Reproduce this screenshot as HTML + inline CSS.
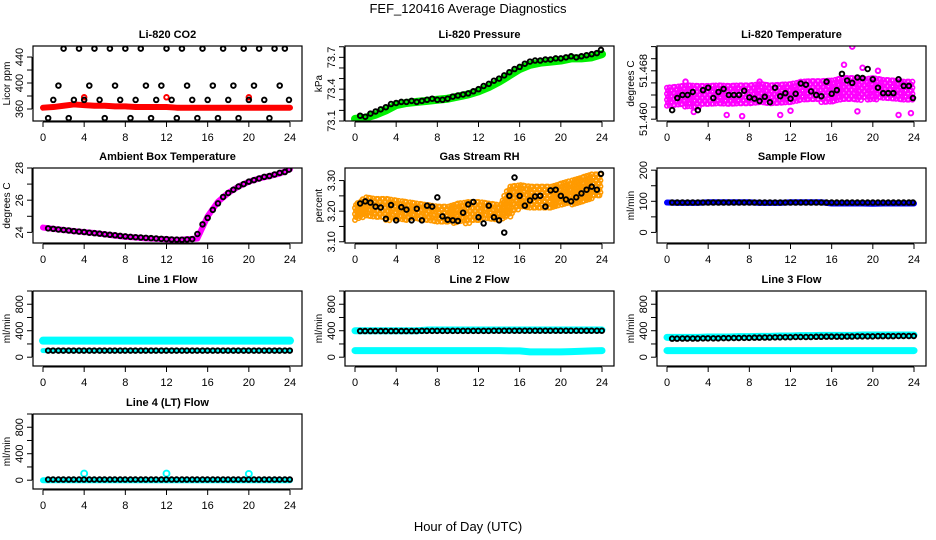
<!DOCTYPE html>
<html><head><meta charset="utf-8">
<style>
html,body{margin:0;padding:0;background:#fff;}
svg{display:block;font-family:"Liberation Sans",Arial,sans-serif;}
</style></head>
<body>
<svg id="chart" width="936" height="540" viewBox="0 0 936 540" xmlns="http://www.w3.org/2000/svg">
<text x="468" y="13" text-anchor="middle" font-size="13">FEF_120416  Average Diagnostics</text>
<text x="468" y="531" text-anchor="middle" font-size="13">Hour of Day (UTC)</text>
</svg>
<script>
// ---------- data ----------
const xTicks = [0,4,8,12,16,20,24];
const hours25 = [0,1,2,3,4,5,6,7,8,9,10,11,12,13,14,15,16,17,18,19,20,21,22,23,24];
const halfHours = [0.5,1,1.5,2,2.5,3,3.5,4,4.5,5,5.5,6,6.5,7,7.5,8,8.5,9,9.5,10,10.5,11,11.5,12,12.5,13,13.5,14,14.5,15,15.5,16,16.5,17,17.5,18,18.5,19,19.5,20,20.5,21,21.5,22,22.5,23,23.5,23.9];

const co2Black = [346,374,396,453,346,374,453,374,396,453,374,346,453,396,374,453,346,374,453,396,346,374,396,453,374,346,453,396,374,346,453,374,396,346,453,374,396,346,453,374,396,453,374,346,453,396,453,374];
const co2Red = [362,363,365,367,366,365,365,364,364,363,363,363,363,362,362,362,362,362,362,362,362,362,362,362,362];

const presBlack = [73.15,73.14,73.17,73.19,73.21,73.23,73.26,73.27,73.28,73.28,73.29,73.28,73.29,73.30,73.31,73.30,73.30,73.31,73.33,73.34,73.35,73.36,73.38,73.40,73.43,73.45,73.48,73.50,73.53,73.56,73.59,73.61,73.64,73.66,73.67,73.67,73.68,73.68,73.69,73.69,73.70,73.71,73.70,73.71,73.72,73.73,73.74,73.77];
const presGreen = [73.12,73.13,73.16,73.20,73.25,73.27,73.28,73.29,73.30,73.31,73.33,73.35,73.38,73.42,73.47,73.53,73.59,73.63,73.65,73.66,73.67,73.69,73.69,73.70,73.73];

const tempBlack = [51.4615,51.4635,51.4640,51.4640,51.4645,51.4615,51.4648,51.4652,51.4635,51.4645,51.4650,51.4640,51.4640,51.4640,51.4647,51.4636,51.4634,51.4630,51.4637,51.4628,51.4652,51.4638,51.4643,51.4634,51.4642,51.4659,51.4657,51.4646,51.4640,51.4638,51.4662,51.4642,51.4648,51.4675,51.4664,51.4660,51.4669,51.4668,51.4683,51.4666,51.4652,51.4643,51.4643,51.4643,51.4666,51.4655,51.4655,51.4635];
const tempLo = [51.4620,51.4622,51.4620,51.4620,51.4622,51.4622,51.4625,51.4624,51.4625,51.4625,51.4625,51.4626,51.4626,51.4628,51.4630,51.4628,51.4628,51.4630,51.4630,51.4632,51.4632,51.4632,51.4632,51.4630,51.4632];
const tempHi = [51.4652,51.4654,51.4656,51.4655,51.4655,51.4656,51.4655,51.4656,51.4656,51.4658,51.4656,51.4657,51.4658,51.4662,51.4663,51.4663,51.4664,51.4668,51.4668,51.4666,51.4668,51.4665,51.4664,51.4662,51.4662];
const tempOutX = [5.8,7.3,11,17.2,18,19,20.5,22.5,23.7,1.8,2.6,18.5,12,9];
const tempOutY = [51.4607,51.4605,51.4607,51.4690,51.4720,51.4685,51.4680,51.4607,51.4610,51.4662,51.4612,51.4613,51.4614,51.4662];

const ambBlack = [24.25,24.22,24.18,24.15,24.12,24.08,24.05,24.02,23.98,23.95,23.92,23.88,23.85,23.82,23.78,23.75,23.72,23.7,23.68,23.66,23.64,23.62,23.6,23.58,23.56,23.55,23.54,23.56,23.58,23.9,24.5,24.9,25.4,25.8,26.2,26.45,26.65,26.85,27.0,27.15,27.25,27.35,27.45,27.5,27.6,27.7,27.75,27.9];
const ambMagenta = [24.3,24.22,24.15,24.08,24.02,23.96,23.88,23.8,23.73,23.68,23.63,23.6,23.57,23.53,23.57,23.62,25.0,25.9,26.45,26.85,27.15,27.35,27.5,27.65,27.92];

const rhBlack = [3.225,3.232,3.228,3.215,3.212,3.175,3.22,3.17,3.213,3.205,3.17,3.208,3.17,3.218,3.215,3.245,3.183,3.172,3.17,3.168,3.195,3.222,3.23,3.18,3.16,3.218,3.18,3.17,3.13,3.25,3.31,3.25,3.218,3.235,3.248,3.25,3.215,3.268,3.27,3.25,3.238,3.232,3.245,3.258,3.27,3.28,3.27,3.322];
const rhLo = [3.17,3.18,3.18,3.17,3.17,3.17,3.17,3.17,3.16,3.16,3.16,3.16,3.17,3.17,3.17,3.18,3.21,3.21,3.21,3.21,3.22,3.22,3.23,3.24,3.25];
const rhHi = [3.22,3.245,3.24,3.24,3.235,3.23,3.225,3.22,3.215,3.215,3.225,3.23,3.23,3.225,3.22,3.28,3.285,3.28,3.28,3.28,3.29,3.3,3.31,3.32,3.32];

const sampleBlack = 96, sampleBlue = [96,95,95,95,97,97,97,97,97,95,95,95,97,97,97,97,93,93,93,93,92,93,93,93,93];

const l1Cyan = [250,250,250,250,250,250,250,250,250,250,250,250,250,250,250,250,250,250,250,250,250,250,250,250,250];
const l1Black = [100,100,100,100,100,100,100,100,100,100,100,100,100,100,100,100,100,100,100,100,100,100,100,100,100];
const l2CyanHi = [400,400,400,400,400,400,400,410,410,410,410,410,410,410,410,410,410,410,410,410,410,410,410,410,410];
const l2CyanLo = [100,100,100,100,100,100,100,100,100,100,100,100,100,100,100,95,95,80,80,80,80,85,90,95,100];
const l2Black = [395,395,395,395,395,395,395,398,398,398,398,398,398,398,400,400,400,400,400,400,400,400,400,400,400];
const l3CyanHi = [300,300,300,300,305,305,305,310,310,315,315,320,320,325,325,330,330,330,330,335,335,335,335,335,335];
const l3CyanLo = [100,100,100,100,100,100,100,100,100,100,100,100,100,100,100,100,100,100,100,100,100,100,100,100,100];
const l3Black = [280,280,282,282,285,285,288,290,292,295,297,300,302,305,305,308,310,310,312,315,315,318,318,320,320];
const l4Cyan = [0,0,0,0,0,0,0,0,0,0,0,0,0,0,0,0,0,0,0,0,0,0,0,0,0];
const l4Black = [10,10,10,10,10,10,10,10,10,10,10,10,10,10,10,10,10,10,10,10,10,10,10,10,10];
const l4SpikeX = [4,12,20];
const l4SpikeY = [100,100,95];
const co2RedSpikeX = [4,12,20];
const co2RedSpikeY = [378,378,378];

// ---------- drawing ----------
const NS = 'http://www.w3.org/2000/svg';
const svg = document.getElementById('chart');
function mk(tag, attrs, parent){
  const e = document.createElementNS(NS, tag);
  for (const k in attrs) e.setAttribute(k, attrs[k]);
  (parent||svg).appendChild(e);
  return e;
}
const colX = [33,345,657], rowY = [46,168,291,414];
const BW = 269, BH = 75;

function makePanel(col,row,title,ylab,ymin,ymax,ticks,labels,name){
  const g = mk('g',{});
  
  
  const bx = colX[col], by = rowY[row];
  const x0 = bx+10, x24 = bx+257;
  const xs = t => x0 + (x24-x0)*t/24;
  const ys = v => by+BH - (v-ymin)/(ymax-ymin)*BH;
  const t = mk('text',{x:bx+BW/2,y:by-8,'text-anchor':'middle','font-size':11,'font-weight':'bold'},g);
  t.textContent = title;
  
  
  const xa = mk('g',{},g);
  
  
  mk('line',{x1:xs(0),x2:xs(24),y1:by+BH+1,y2:by+BH+1,stroke:'#000','stroke-width':1},xa);
  xTicks.forEach(v=>{
    mk('line',{x1:xs(v),x2:xs(v),y1:by+BH+1,y2:by+BH+6,stroke:'#000'},xa);
    const tx = mk('text',{x:xs(v),y:by+BH+20,'text-anchor':'middle','font-size':11},xa);
    tx.textContent = v;
  });
  const ya = mk('g',{},g);
  
  
  mk('line',{x1:bx-1,x2:bx-1,y1:ys(ticks[0]),y2:ys(ticks[ticks.length-1]),stroke:'#000'},ya);
  ticks.forEach((v,i)=>{
    mk('line',{x1:bx-6,x2:bx-1,y1:ys(v),y2:ys(v),stroke:'#000'},ya);
    if (labels[i]!==''){
      const tx = mk('text',{x:bx-10,y:ys(v),'text-anchor':'middle','font-size':11,transform:`rotate(-90 ${bx-10} ${ys(v)})`},ya);
      tx.textContent = labels[i];
    }
  });
  const yl = mk('text',{x:bx-23,y:by+BH/2,'text-anchor':'middle','font-size':10,transform:`rotate(-90 ${bx-23} ${by+BH/2})`},g);
  yl.textContent = ylab;
  
  
  const clipId = 'c'+name;
  const cp = mk('clipPath',{id:clipId},g);
  mk('rect',{x:bx,y:by,width:BW,height:BH},cp);
  const plot = mk('g',{'clip-path':`url(#${clipId})`},g);
  mk('rect',{x:bx,y:by,width:BW,height:BH,fill:'none',stroke:'#000','stroke-width':1.2},g);
  return {g:plot,xs,ys};
}
function band(p, xsArr, ys, color, w, name){
  const pts = xsArr.map((x,i)=>p.xs(x)+','+p.ys(ys[i])).join(' ');
  const l = mk('polyline',{points:pts,fill:'none',stroke:color,'stroke-width':w,'stroke-linejoin':'round','stroke-linecap':'round'},p.g);
  
  
}
function circles(p, xsArr, ys, color, name, r){
  xsArr.forEach((x,i)=>{
    const c = mk('circle',{cx:p.xs(x),cy:p.ys(ys[i]),r:r||2.3,fill:'none',stroke:color,'stroke-width':1.9},p.g);
    
    
  });
}
function cloud(p, lo, hi, color, name){
  for (let i=0;i<hours25.length-1;i++){
    for (let s=0;s<4;s++){
      const f = s/4, t = hours25[i]+f;
      const a = lo[i]+(lo[i+1]-lo[i])*f, b = hi[i]+(hi[i+1]-hi[i])*f;
      const ya = p.ys(a), yb = p.ys(b);
      for (let yy=yb; yy<=ya; yy+=3){
        const c = mk('circle',{cx:p.xs(t)+((s+Math.round(yy))%2),cy:yy,r:2.2,fill:'none',stroke:color,'stroke-width':1.6},p.g);
        
        
      }
    }
  }
}

let p = makePanel(0,0,'Li-820 CO2','Licor ppm',341.5,457,[360,380,400,420,440],['360','','400','','440'],'co2');
band(p,hours25,co2Red,'#ff0000',6,'co2-red-series');
circles(p,co2RedSpikeX,co2RedSpikeY,'#ff0000','co2-red-point');
circles(p,halfHours,co2Black,'#000','co2-black-point');

p = makePanel(1,0,'Li-820 Pressure','kPa',73.1,73.807,[73.1,73.2,73.3,73.4,73.5,73.6,73.7,73.8],['73.1','','','73.4','','','73.7',''],'pressure');
band(p,hours25,presGreen,'#00ee00',8,'pressure-green-series');
circles(p,halfHours,presBlack,'#000','pressure-black-point');

p = makePanel(2,0,'Li-820 Temperature','degrees C',51.4597,51.4721,[51.460,51.462,51.464,51.466,51.468,51.470,51.472],['51.460','','','','51.468','',''],'li820-temp');
cloud(p,tempLo,tempHi,'#ff00ff','li820-temp-magenta-point');
circles(p,tempOutX,tempOutY,'#ff00ff','li820-temp-magenta-point');
circles(p,halfHours,tempBlack,'#000','li820-temp-black-point');

p = makePanel(0,1,'Ambient Box Temperature','degrees C',23.34,28.0,[24,25,26,27,28],['24','','26','','28'],'ambient-temp');
band(p,hours25,ambMagenta,'#ff00ff',6,'ambient-magenta-series');
circles(p,halfHours,ambBlack,'#000','ambient-black-point');

p = makePanel(1,1,'Gas Stream RH','percent',3.096,3.341,[3.10,3.15,3.20,3.25,3.30],['3.10','','3.20','','3.30'],'rh');
cloud(p,rhLo,rhHi,'#ff9a00','rh-orange-point');
circles(p,halfHours,rhBlack,'#000','rh-black-point');

p = makePanel(2,1,'Sample Flow','ml/min',-34,207,[0,50,100,150,200],['0','','100','','200'],'sample-flow');
band(p,hours25,sampleBlue,'#0000ff',6,'sample-flow-blue-series');
circles(p,halfHours,halfHours.map(()=>sampleBlack),'#000','sample-flow-black-point');

const flowTicks=[0,200,400,600,800,1000], flowLabels=['0','','400','','800',''];
p = makePanel(0,2,'Line 1 Flow','ml/min',-133,1000,flowTicks,flowLabels,'line1-flow');
band(p,hours25,l1Cyan,'#00ffff',8,'line1-cyan-high');
band(p,hours25,l1Black,'#00ffff',5,'line1-cyan-low');
circles(p,hours25.slice(1).map(h=>h-0.5).concat(hours25.slice(1).map(h=>h-0.02)),l1Black.slice(1).concat(l1Black.slice(1)),'#000','line1-black-point');

p = makePanel(1,2,'Line 2 Flow','ml/min',-133,1000,flowTicks,flowLabels,'line2-flow');
band(p,hours25,l2CyanHi,'#00ffff',7,'line2-cyan-high');
band(p,hours25,l2CyanLo,'#00ffff',7,'line2-cyan-low');
circles(p,hours25.slice(1).map(h=>h-0.5).concat(hours25.slice(1).map(h=>h-0.02)),l2Black.slice(1).concat(l2Black.slice(1)),'#000','line2-black-point');

p = makePanel(2,2,'Line 3 Flow','ml/min',-133,1000,flowTicks,flowLabels,'line3-flow');
band(p,hours25,l3CyanHi,'#00ffff',7,'line3-cyan-high');
band(p,hours25,l3CyanLo,'#00ffff',7,'line3-cyan-low');
circles(p,hours25.slice(1).map(h=>h-0.5).concat(hours25.slice(1).map(h=>h-0.02)),l3Black.slice(1).concat(l3Black.slice(1)),'#000','line3-black-point');

p = makePanel(0,3,'Line 4 (LT) Flow','ml/min',-133,1000,flowTicks,flowLabels,'line4-flow');
band(p,hours25,l4Cyan,'#00ffff',6,'line4-cyan-series');
circles(p,l4SpikeX,l4SpikeY,'#00ffff','line4-cyan-spike',3);
circles(p,hours25.slice(1).map(h=>h-0.5).concat(hours25.slice(1).map(h=>h-0.02)),l4Black.slice(1).concat(l4Black.slice(1)),'#000','line4-black-point');
</script>
</body></html>
